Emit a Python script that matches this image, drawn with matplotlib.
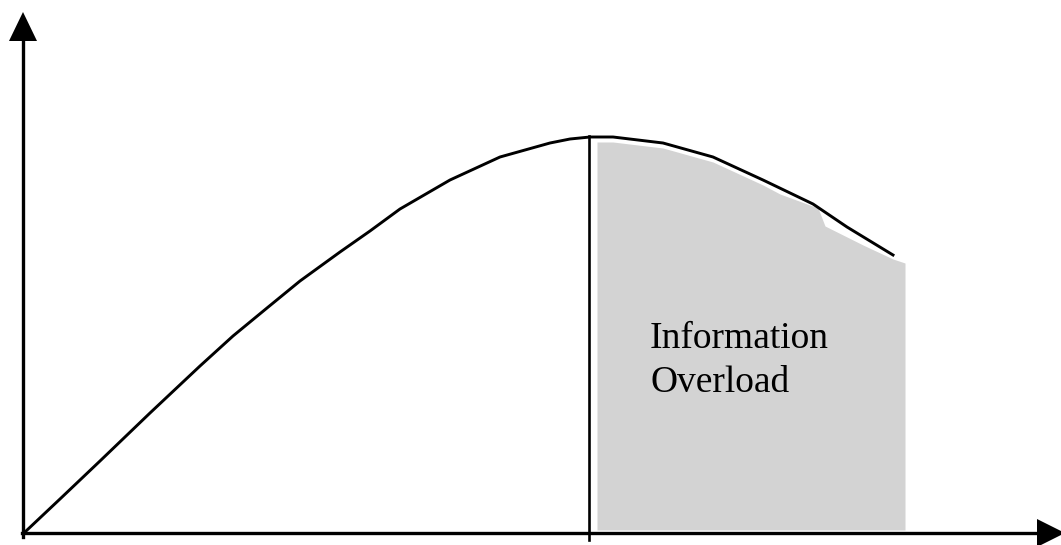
import numpy as np
import matplotlib
matplotlib.use("Agg")
import matplotlib.pyplot as plt

# curve (pixel-like units, y grows downward)
curve_x = [25, 60, 100, 150, 200, 233, 267, 300, 340, 370, 400, 450, 500, 550, 570, 590,
           613, 663, 713, 763, 813, 847, 893]
curve_y = [532, 499, 461, 413, 366, 336, 308, 281, 252, 231, 209, 180, 157, 143, 139, 137,
           137, 143, 157, 180, 204, 227, 255]

# gray "overload" region top edge
shade_x = [597, 613, 663, 713, 763, 780, 818, 825, 863, 893, 905]
shade_top = [142, 142, 148, 162, 185, 194, 208, 226, 245, 259, 263]
shade_bottom = 530

peak_x = 589
label = "Information\nOverload"

W, H = 1061, 545
fig = plt.figure(figsize=(W / 100, H / 100), dpi=100)
ax = fig.add_axes([0, 0, 1, 1])
ax.set_xlim(0, W)
ax.set_ylim(H, 0)
ax.axis("off")

#---- shaded region ----
ax.fill_between(shade_x, shade_top, shade_bottom, color="#d3d3d3", lw=0, zorder=1)

#---- curve + peak line ----
ax.plot(curve_x, curve_y, color="black", lw=2.1, solid_joinstyle="round", zorder=3)
ax.plot([peak_x, peak_x], [136, 540], color="black", lw=1.9, zorder=3)

#---- axes with arrow heads ----
ox, oy = 23, 533
ax.plot([ox, ox], [537, 38], color="black", lw=2.4, zorder=4)
ax.plot([ox - 1, 1040], [oy, oy], color="black", lw=2.4, zorder=4)
ax.fill([ox, 9, 37], [12, 41, 41], color="black", lw=0, zorder=5)
ax.fill([1065, 1037, 1037], [oy, 519, 547], color="black", lw=0, zorder=5)

#---- label ----
ax.text(650, 392, label, family="Liberation Serif", fontsize=27,
        ha="left", va="baseline", linespacing=1.37, color="black", zorder=6)

fig.savefig("out.png", dpi=100)
